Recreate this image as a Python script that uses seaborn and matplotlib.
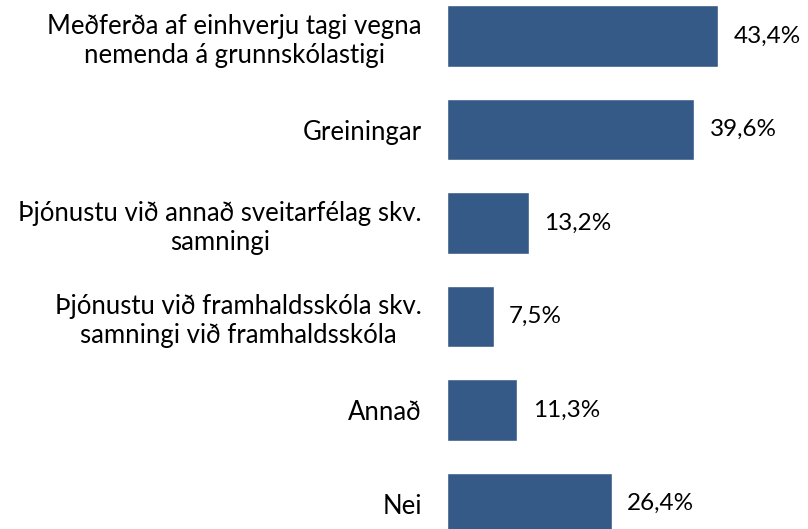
import matplotlib
matplotlib.use("Agg")
import matplotlib.pyplot as plt
import seaborn as sns
import pandas as pd

# ------------------------------------------------------------------
# Data
# ------------------------------------------------------------------
categories = [
    "Meðferða af einhverju tagi vegna\nnemenda á grunnskólastigi",
    "Greiningar",
    "Þjónustu við annað sveitarfélag skv.\nsamningi",
    "Þjónustu við framhaldsskóla skv.\nsamningi við framhaldsskóla",
    "Annað",
    "Nei",
]
values = [43.4, 39.6, 13.2, 7.5, 11.3, 26.4]
value_labels = [f"{v:.1f}%".replace(".", ",") for v in values]

df = pd.DataFrame({"cat": categories, "val": values})

# ------------------------------------------------------------------
# Plot
# ------------------------------------------------------------------
sns.set_style("white")
plt.rcParams["font.family"] = ["Lato", "DejaVu Sans"]

fig = plt.figure(figsize=(8.08, 5.29), dpi=100)
ax = fig.add_axes([0.5528, -0.0402, 0.445, 1.0605])

sns.barplot(data=df, x="val", y="cat", orient="h", color="#365A87",
            saturation=1, width=0.66, ax=ax)

ax.set_xlim(0, 57.5)
ax.set_ylim(5.5, -0.5)
ax.set_xlabel("")
ax.set_ylabel("")
ax.set_xticks([])
sns.despine(ax=ax, left=True, bottom=True)

ax.tick_params(axis="y", length=0, pad=18, labelsize=18.5)
for lbl in ax.get_yticklabels():
    lbl.set_multialignment("center")
    lbl.set_linespacing(1.2)
    lbl.set_color("black")

ax.bar_label(ax.containers[0], labels=value_labels, padding=11,
             fontsize=17.5, color="black")

fig.savefig("out.png", dpi=100)
